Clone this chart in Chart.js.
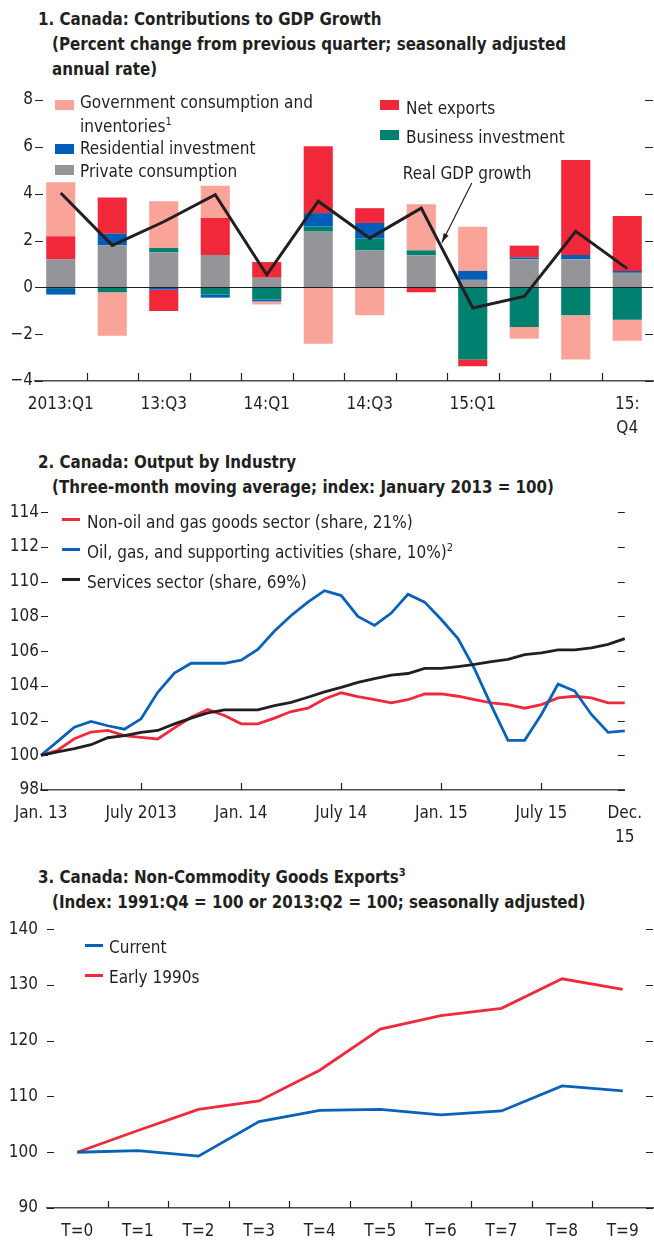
<!DOCTYPE html>
<html>
<head>
<meta charset="utf-8">
<script src="https://cdn.jsdelivr.net/npm/chart.js@4.4.1/dist/chart.umd.min.js"></script>
<style>
  body { margin: 0; background: #fff; }
  #page { position: relative; width: 654px; height: 1241px; overflow: hidden;
          font-family: "DejaVu Sans Condensed", "Liberation Sans", sans-serif; color: #231f20; }
  .title { position: absolute; left: 38px; font-weight: bold; font-size: 16.8px; line-height: 25px; white-space: nowrap; }
  .title span { display: block; padding-left: 14px; }
  .title sup { font-size: 11px; line-height: 0; }
  canvas { position: absolute; left: 0; }
  .lg { position: absolute; font-size: 17px; line-height: 24px; white-space: nowrap; }
  .lg sup { font-size: 11px; line-height: 0; }
  .sw { position: absolute; }
</style>
</head>
<body>
<div id="page">
  <div class="title" style="top:7px">1. Canada: Contributions to GDP Growth
    <span>(Percent change from previous quarter; seasonally adjusted</span>
    <span>annual rate)</span></div>
  <canvas id="c1" width="654" height="365" style="top:85px"></canvas>

  <div class="title" style="top:450px">2. Canada: Output by Industry
    <span>(Three-month moving average; index: January 2013 = 100)</span></div>
  <canvas id="c2" width="654" height="350" style="top:500px"></canvas>

  <div class="title" style="top:865px">3. Canada: Non-Commodity Goods Exports<sup>3</sup>
    <span>(Index: 1991:Q4 = 100 or 2013:Q2 = 100; seasonally adjusted)</span></div>
  <canvas id="c3" width="654" height="331" style="top:910px"></canvas>
</div>

<script>
// ---- panel 1: contributions to GDP growth (percentage points) ----
const quarters = ['2013:Q1', '2013:Q2', '2013:Q3', '2013:Q4', '2014:Q1', '2014:Q2',
                  '2014:Q3', '2014:Q4', '2015:Q1', '2015:Q2', '2015:Q3', '2015:Q4'];
const quarterTicks = ['2013:Q1', '', '13:Q3', '', '14:Q1', '', '14:Q3', '', '15:Q1', '', '', ['15:', 'Q4']];
const privateConsumption = [1.20, 1.79, 1.50, 1.38, 0.41, 2.38, 1.58, 1.37, 0.32, 1.20, 1.20, 0.62];
const businessInvestment = [-0.07, -0.21, 0.18, -0.31, -0.52, 0.22, 0.50, 0.21, -3.08, -1.69, -1.19, -1.38];
const residentialInvestment = [-0.24, 0.50, -0.10, -0.13, -0.08, 0.57, 0.67, 0.00, 0.38, 0.08, 0.18, 0.08];
const netExports = [0.98, 1.55, -0.91, 1.58, 0.67, 2.85, 0.63, -0.21, -0.29, 0.50, 4.06, 2.35];
const govInventories = [2.31, -1.86, 2.00, 1.38, -0.13, -2.41, -1.19, 1.97, 1.89, -0.50, -1.89, -0.90];
const realGdpGrowth = [4.03, 1.79, 2.80, 3.96, 0.53, 3.68, 2.10, 3.38, -0.88, -0.39, 2.39, 0.80];

// ---- panel 2: output by industry (index, Jan 2013 = 100) ----
const months = ['2013-01', '2013-02', '2013-03', '2013-04', '2013-05', '2013-06',
                '2013-07', '2013-08', '2013-09', '2013-10', '2013-11', '2013-12',
                '2014-01', '2014-02', '2014-03', '2014-04', '2014-05', '2014-06',
                '2014-07', '2014-08', '2014-09', '2014-10', '2014-11', '2014-12',
                '2015-01', '2015-02', '2015-03', '2015-04', '2015-05', '2015-06',
                '2015-07', '2015-08', '2015-09', '2015-10', '2015-11', '2015-12'];
const monthTicks = {0: 'Jan. 13', 6: 'July 2013', 12: 'Jan. 14', 18: 'July 14',
                    24: 'Jan. 15', 30: 'July 15', 35: ['Dec.', '15']};
const nonOilGoods = [100.00, 100.29, 100.95, 101.34, 101.43, 101.13, 101.03, 100.94, 101.58, 102.19, 102.63, 102.29,
                     101.81, 101.81, 102.14, 102.52, 102.71, 103.24, 103.60, 103.38, 103.20, 103.02, 103.20, 103.53,
                     103.53, 103.40, 103.20, 103.02, 102.92, 102.71, 102.92, 103.30, 103.40, 103.30, 103.02, 103.02];
const oilGas = [100.00, 100.80, 101.62, 101.95, 101.70, 101.50, 102.10, 103.63, 104.73, 105.30, 105.30, 105.30,
                105.48, 106.10, 107.16, 108.05, 108.82, 109.48, 109.20, 108.00, 107.48, 108.19, 109.27, 108.82,
                107.82, 106.72, 104.96, 102.86, 100.86, 100.86, 102.35, 104.10, 103.70, 102.35, 101.32, 101.41];
const services = [100.00, 100.19, 100.38, 100.61, 101.01, 101.13, 101.32, 101.43, 101.81, 102.14, 102.44, 102.61,
                  102.61, 102.61, 102.86, 103.05, 103.34, 103.65, 103.91, 104.20, 104.41, 104.62, 104.71, 105.00,
                  105.00, 105.11, 105.23, 105.40, 105.52, 105.80, 105.90, 106.07, 106.07, 106.18, 106.39, 106.72];

// ---- panel 3: non-commodity goods exports ----
const periods = ['T=0', 'T=1', 'T=2', 'T=3', 'T=4', 'T=5', 'T=6', 'T=7', 'T=8', 'T=9'];
const currentEpisode = [100.0, 100.3, 99.3, 105.5, 107.5, 107.7, 106.7, 107.4, 111.9, 111.0];
const early1990s = [100.0, 103.9, 107.7, 109.2, 114.7, 122.1, 124.5, 125.8, 131.1, 129.2];

const FONT = '"DejaVu Sans Condensed", "Liberation Sans", sans-serif';
const INK = '#231f20';
const AXIS = '#4d4d4d';
const PINK = '#f9a399', RED = '#f0283a', BLUE = '#005eb8', TEAL = '#00806f', GRAY = '#939598';
const LRED = '#ee2a3c', LBLUE = '#0a62b8';

Chart.defaults.font.family = FONT;
Chart.defaults.font.size = 17;
Chart.defaults.color = INK;

const minus = v => (v < 0 ? '\u2212' + Math.abs(v) : v);

// short tick marks drawn inside the plot (left and right edges, and up from the x axis)
const insideTicks = {
  id: 'insideTicks',
  afterDatasetsDraw(chart, args, opts) {
    const {ctx, chartArea: a, scales: {x, y}} = chart;
    ctx.save();
    ctx.strokeStyle = INK;
    ctx.lineWidth = 1.2;
    ctx.beginPath();
    y.ticks.forEach(t => {
      const py = Math.round(y.getPixelForValue(t.value)) + 0.5;
      ctx.moveTo(a.left, py); ctx.lineTo(a.left + opts.len, py);
      ctx.moveTo(a.right - opts.len, py); ctx.lineTo(a.right, py);
    });
    (opts.xAt || []).forEach(v => {
      const px = Math.round(x.getPixelForValue(v)) + 0.5;
      ctx.moveTo(px, a.bottom); ctx.lineTo(px, a.bottom - opts.len);
    });
    ctx.stroke();
    if (opts.zeroLine) {
      const pz = Math.round(y.getPixelForValue(0)) + 0.5;
      ctx.beginPath();
      ctx.lineWidth = 1;
      ctx.moveTo(a.left, pz); ctx.lineTo(a.right, pz);
      ctx.stroke();
    }
    ctx.restore();
  }
};

// "Real GDP growth" label with arrow
const note = {
  id: 'note',
  afterDatasetsDraw(chart, args, o) {
    if (!o.text) return;
    const {ctx, scales: {x, y}} = chart;
    const px = p => [x.getPixelForValue(p.x), y.getPixelForValue(p.y)];
    ctx.save();
    ctx.fillStyle = INK;
    ctx.strokeStyle = INK;
    ctx.font = '17px ' + FONT;
    ctx.textAlign = 'center';
    ctx.textBaseline = 'middle';
    const [tx, ty] = px(o.at);
    ctx.fillText(o.text, tx, ty);
    const [x1, y1] = px(o.from);
    const [x2, y2] = px(o.to);
    ctx.lineWidth = 1.2;
    ctx.beginPath(); ctx.moveTo(x1, y1); ctx.lineTo(x2, y2); ctx.stroke();
    const ang = Math.atan2(y2 - y1, x2 - x1);
    ctx.beginPath();
    ctx.moveTo(x2, y2);
    ctx.lineTo(x2 - 10 * Math.cos(ang - 0.28), y2 - 10 * Math.sin(ang - 0.28));
    ctx.lineTo(x2 - 10 * Math.cos(ang + 0.28), y2 - 10 * Math.sin(ang + 0.28));
    ctx.closePath();
    ctx.fill();
    ctx.restore();
  }
};

const boundaries = n => Array.from({length: n - 1}, (_, i) => i + 0.5);

function xAxis(height, callback, offset) {
  return {
    offset: offset,
    grid: {display: true, drawOnChartArea: false, drawTicks: false},
    border: {display: true, color: AXIS, width: 1.6},
    ticks: {autoSkip: false, maxRotation: 0, padding: 12, font: {lineHeight: 1.4}, callback: callback},
    afterFit: s => { s.height = height; }
  };
}
function yAxis(width, min, max, step, pad) {
  return {
    min: min, max: max,
    grid: {display: false, drawTicks: false},
    border: {display: false},
    ticks: {stepSize: step, padding: pad, callback: minus},
    afterFit: s => { s.width = width; }
  };
}

// ---------- chart 1 ----------
new Chart(document.getElementById('c1'), {
  type: 'bar',
  data: {
    labels: quarters,
    datasets: [
      {type: 'line', label: 'Real GDP growth', data: realGdpGrowth, borderColor: INK, borderWidth: 3,
       pointRadius: 0, tension: 0, order: 0, stack: 'gdp'},
      {label: 'Private consumption', data: privateConsumption, backgroundColor: GRAY, stack: 'c', order: 1},
      {label: 'Business investment', data: businessInvestment, backgroundColor: TEAL, stack: 'c', order: 1},
      {label: 'Residential investment', data: residentialInvestment, backgroundColor: BLUE, stack: 'c', order: 1},
      {label: 'Net exports', data: netExports, backgroundColor: RED, stack: 'c', order: 1},
      {label: 'Government consumption and inventories', data: govInventories, backgroundColor: PINK, stack: 'c', order: 1}
    ]
  },
  options: {
    responsive: false, animation: false, devicePixelRatio: 1,
    layout: {padding: {top: 15, right: 1, left: 0, bottom: 0}},
    datasets: {bar: {barPercentage: 0.565, categoryPercentage: 1}},
    plugins: {
      legend: {display: false}, tooltip: {enabled: false},
      insideTicks: {len: 8, xAt: boundaries(quarters.length), zeroLine: true},
      note: {text: 'Real GDP growth', at: {x: 7.89, y: 4.81}, from: {x: 7.98, y: 4.46}, to: {x: 7.40, y: 1.90}}
    },
    scales: {
      x: Object.assign(xAxis(69, (v, i) => quarterTicks[i], true), {stacked: true}),
      y: Object.assign(yAxis(35, -4, 8, 2, 2), {stacked: true})
    }
  },
  plugins: [insideTicks, note]
});

// ---------- chart 2 ----------
const lineSet = (label, data, color) => ({label: label, data: data, borderColor: color, borderWidth: 2.8,
  pointRadius: 0, tension: 0, fill: false});

new Chart(document.getElementById('c2'), {
  type: 'line',
  data: {
    labels: months,
    datasets: [
      lineSet('Services sector (share, 69%)', services, INK),
      lineSet('Oil, gas, and supporting activities (share, 10%)', oilGas, LBLUE),
      lineSet('Non-oil and gas goods sector (share, 21%)', nonOilGoods, LRED)
    ]
  },
  options: {
    responsive: false, animation: false, devicePixelRatio: 1,
    layout: {padding: {top: 11, right: 21, left: 0, bottom: 0}},
    plugins: {legend: {display: false}, tooltip: {enabled: false},
              insideTicks: {len: 7, xAt: [0, 6, 12, 18, 24, 30]}},
    scales: {
      x: xAxis(60, (v, i) => (monthTicks[i] !== undefined ? monthTicks[i] : ''), false),
      y: yAxis(41, 98, 114, 2, 2)
    }
  },
  plugins: [insideTicks]
});

// ---------- chart 3 ----------
new Chart(document.getElementById('c3'), {
  type: 'line',
  data: {
    labels: periods,
    datasets: [
      lineSet('Current', currentEpisode, LBLUE),
      lineSet('Early 1990s', early1990s, LRED)
    ]
  },
  options: {
    responsive: false, animation: false, devicePixelRatio: 1,
    layout: {padding: {top: 12, right: 1, left: 0, bottom: 0}},
    plugins: {legend: {display: false}, tooltip: {enabled: false},
              insideTicks: {len: 7, xAt: boundaries(periods.length)}},
    scales: {
      x: xAxis(33, (v, i) => periods[i], true),
      y: yAxis(47, 90, 140, 10, 9)
    }
  },
  plugins: [insideTicks]
});

// ---------- legends (html text) ----------
const page = document.getElementById('page');
function legendItem(kind, color, sx, sy, tx, ty, html) {
  const sw = document.createElement('div');
  sw.className = 'sw';
  if (kind === 'box') {
    Object.assign(sw.style, {left: sx + 'px', top: sy + 'px', width: '19px', height: '10px', background: color});
  } else {
    Object.assign(sw.style, {left: sx + 'px', top: (sy - 1.5) + 'px', width: '18px', height: '3px', background: color});
  }
  page.appendChild(sw);
  const t = document.createElement('div');
  t.className = 'lg';
  t.style.left = tx + 'px';
  t.style.top = (ty - 12) + 'px';
  t.innerHTML = html;
  page.appendChild(t);
}
legendItem('box', PINK, 55, 100, 80, 102, 'Government consumption and<br>inventories<sup>1</sup>');
legendItem('box', BLUE, 55, 144, 80, 148, 'Residential investment');
legendItem('box', GRAY, 55, 165, 80, 171, 'Private consumption');
legendItem('box', RED, 380, 100, 406, 108, 'Net exports');
legendItem('box', TEAL, 380, 130, 406, 137, 'Business investment');

legendItem('line', LRED, 62, 519, 87, 522, 'Non-oil and gas goods sector (share, 21%)');
legendItem('line', LBLUE, 62, 549, 87, 552, 'Oil, gas, and supporting activities (share, 10%)<sup>2</sup>');
legendItem('line', INK, 62, 579, 87, 582, 'Services sector (share, 69%)');

legendItem('line', LBLUE, 85, 945, 109, 947, 'Current');
legendItem('line', LRED, 85, 975, 109, 977, 'Early 1990s');
</script>
</body>
</html>
